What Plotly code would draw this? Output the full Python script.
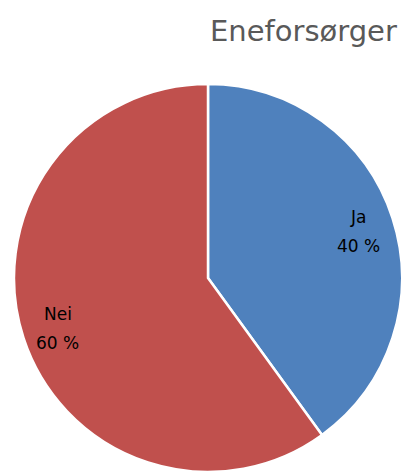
import math
import plotly.graph_objects as go

labels = ["Ja", "Nei"]
values = [40, 60]
colors = ["#4F81BD", "#C0504D"]
title_text = "Eneforsørger"

W, H = 405, 472
cx_px, cy_px, R = 208, 278, 194

fig = go.Figure(go.Pie(
    labels=labels,
    values=values,
    sort=False,
    direction="clockwise",
    rotation=0,
    marker=dict(colors=colors, line=dict(color="white", width=2.5)),
    textposition="none",
    hoverinfo="label+percent",
    domain=dict(x=[(cx_px - R - 3) / W, (cx_px + R + 3) / W],
                y=[max(0, 1 - (cy_px + R) / H), 1 - (cy_px - R) / H]),
    showlegend=False,
))

# labels placed at the mid-angle of each slice (two lines, wider spacing)
total = sum(values)
cum = 0
annotations = []
lab_font = dict(family="DejaVu Sans", size=17, color="#000000")
for lab, v in zip(labels, values):
    mid = (cum + v / 2) / total * 2 * math.pi
    cum += v
    r = 0.815 * R
    x_px = cx_px + r * math.sin(mid)
    y_px = cy_px - r * math.cos(mid) + 2
    for txt, dy in ((lab, -14.5), (f"{round(v / total * 100)} %", 14.5)):
        annotations.append(dict(
            x=x_px / W, y=1 - (y_px + dy) / H, xref="paper", yref="paper",
            text=txt, showarrow=False, font=lab_font,
            xanchor="center", yanchor="middle",
        ))

annotations.append(dict(
    x=399 / W, y=1 - 31 / H, xref="paper", yref="paper",
    text=title_text, showarrow=False,
    font=dict(family="DejaVu Sans", size=29, color="#595959"),
    xanchor="right", yanchor="middle",
))

fig.update_layout(
    width=W, height=H,
    margin=dict(l=0, r=0, t=0, b=0),
    paper_bgcolor="white", plot_bgcolor="white",
    annotations=annotations,
)

fig.write_html(
    "out.html",
    config={"displayModeBar": False},
    post_script="document.body.style.margin='0';document.body.style.overflow='hidden';",
)
